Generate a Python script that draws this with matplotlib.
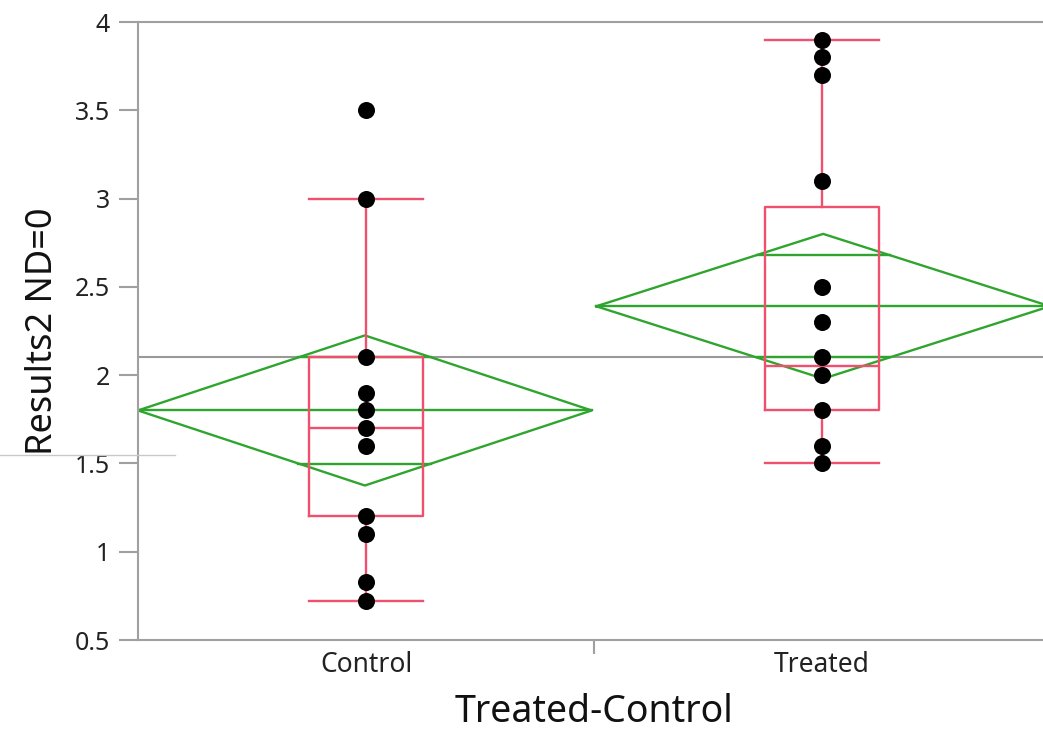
import matplotlib
matplotlib.use("Agg")
from matplotlib import pyplot as plt
from matplotlib.lines import Line2D

plt.rcParams['font.family'] = ['Noto Sans', 'DejaVu Sans']

groups = ['Control', 'Treated']
control_pts = [3.5, 3.0, 2.1, 1.9, 1.8, 1.7, 1.6, 1.2, 1.1, 0.83, 0.72]
treated_pts = [3.9, 3.8, 3.7, 3.1, 2.5, 2.3, 2.1, 2.0, 1.8, 1.6, 1.5]

# box plot stats
box_q1 = [1.2, 1.8]
box_med = [1.7, 2.05]
box_q3 = [2.1, 2.95]
whisk_lo = [0.72, 1.5]
whisk_hi = [3.0, 3.9]

# means diamonds
means = [1.8, 2.39]
ci_half = [0.425, 0.41]
grand_mean = 2.1

RED = '#f0506e'
GREEN = '#2fa52f'
GRAY = '#a0a0a0'

fig = plt.figure(figsize=(10.43, 7.40), dpi=100)
ax = fig.add_axes([138 / 1043, 100 / 740, 912 / 1043, 618 / 740])

# grand mean line
ax.axhline(grand_mean, color='#999999', lw=1.5, zorder=1)

# diamonds
spans = [(-0.5, 0.495), (0.505, 1.5)]
for i in range(2):
    l, r = spans[i]
    c = (l + r) / 2
    m = means[i]
    h = ci_half[i]
    ax.plot([l, c, r, c, l], [m, m + h, m, m - h, m], color=GREEN, lw=1.7, zorder=2)
    ax.plot([l, r], [m, m], color=GREEN, lw=1.7, zorder=2)
    # overlap marks
    o = h / 2 ** 0.5
    half_w = (r - l) / 2 * (1 - o / h)
    for y in (m + o, m - o):
        ax.plot([c - half_w, c + half_w], [y, y], color=GREEN, lw=1.7, zorder=2)

# box plots
stats = []
for i in range(2):
    stats.append({'med': box_med[i], 'q1': box_q1[i], 'q3': box_q3[i],
                  'whislo': whisk_lo[i], 'whishi': whisk_hi[i], 'fliers': []})
ax.bxp(stats, positions=[0, 1], widths=0.248, showfliers=False,
       manage_ticks=False,
       boxprops=dict(color=RED, lw=1.7),
       medianprops=dict(color=RED, lw=1.7),
       whiskerprops=dict(color=RED, lw=1.7),
       capprops=dict(color=RED, lw=1.7),
       capwidths=0.248, zorder=3)

# points
ax.scatter([0] * len(control_pts), control_pts, s=150, color='black', zorder=4, linewidths=0)
ax.scatter([1] * len(treated_pts), treated_pts, s=150, color='black', zorder=4, linewidths=0)

ax.set_xlim(-0.5, 1.5)
ax.set_ylim(0.5, 4)
ax.set_yticks([0.5, 1, 1.5, 2, 2.5, 3, 3.5, 4])
ax.set_yticklabels(['0.5', '1', '1.5', '2', '2.5', '3', '3.5', '4'])
ax.set_xticks([0, 1])
ax.set_xticklabels(groups)
ax.set_xticks([0.5], minor=True)
ax.tick_params(axis='x', which='major', length=0, pad=8, labelsize=19, labelcolor='#222222')
ax.tick_params(axis='x', which='minor', length=10, width=1.5, color=GRAY)
ax.tick_params(axis='y', length=14, width=1.5, color=GRAY, pad=6, labelsize=18, labelcolor='#222222')

for s in ax.spines.values():
    s.set_color(GRAY)
    s.set_linewidth(1.5)

ax.set_xlabel('Treated-Control', fontsize=27, color='#111111', labelpad=10)
ax.set_ylabel('Results2 ND=0', fontsize=26, color='#111111', labelpad=10)

# thin screen artifact line at left edge
fig.add_artist(Line2D([0, 175 / 1043], [1 - 455 / 740, 1 - 455 / 740],
                      color='#c8c8c8', lw=1, transform=fig.transFigure))

fig.savefig('out.png', dpi=100)
